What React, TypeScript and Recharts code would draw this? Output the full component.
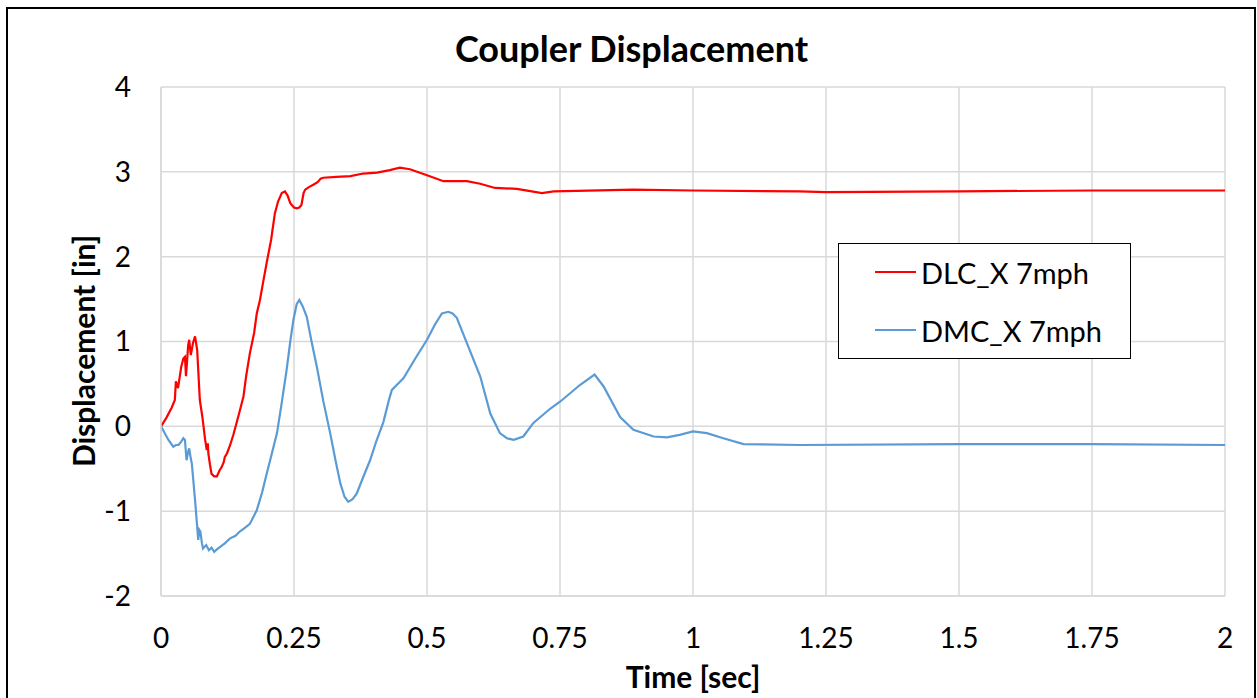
import React from 'react';
import { LineChart, Line, XAxis, YAxis, CartesianGrid, Legend } from 'recharts';

const dlcTime = [0, 0.01, 0.02, 0.026, 0.028, 0.032, 0.038, 0.042, 0.045, 0.047, 0.051, 0.053, 0.056, 0.06, 0.064, 0.068, 0.073, 0.078, 0.083, 0.086, 0.088, 0.089, 0.092, 0.095, 0.1, 0.105, 0.11, 0.114, 0.118, 0.12, 0.124, 0.13, 0.136, 0.142, 0.148, 0.155, 0.16, 0.167, 0.175, 0.18, 0.186, 0.192, 0.199, 0.207, 0.214, 0.22, 0.227, 0.233, 0.238, 0.243, 0.25, 0.255, 0.26, 0.264, 0.268, 0.271, 0.278, 0.287, 0.295, 0.3, 0.305, 0.33, 0.356, 0.38, 0.406, 0.43, 0.449, 0.468, 0.5, 0.531, 0.575, 0.6, 0.628, 0.669, 0.716, 0.738, 0.888, 1.0, 1.2, 1.25, 1.5, 1.75, 2.0];
const dlcValue = [0, 0.1, 0.22, 0.31, 0.53, 0.45, 0.7, 0.8, 0.82, 0.59, 0.95, 1.02, 0.84, 0.98, 1.06, 0.9, 0.31, 0.1, -0.16, -0.28, -0.2, -0.32, -0.45, -0.56, -0.59, -0.59, -0.52, -0.48, -0.42, -0.36, -0.32, -0.22, -0.1, 0.04, 0.18, 0.35, 0.59, 0.86, 1.1, 1.33, 1.49, 1.7, 1.94, 2.2, 2.51, 2.65, 2.75, 2.77, 2.72, 2.63, 2.58, 2.57, 2.58, 2.61, 2.75, 2.79, 2.82, 2.85, 2.88, 2.92, 2.93, 2.94, 2.95, 2.98, 2.99, 3.02, 3.05, 3.03, 2.96, 2.89, 2.89, 2.86, 2.81, 2.8, 2.75, 2.77, 2.79, 2.78, 2.77, 2.76, 2.77, 2.78, 2.78];

const dmcTime = [0, 0.014, 0.023, 0.028, 0.033, 0.038, 0.042, 0.045, 0.048, 0.051, 0.053, 0.056, 0.058, 0.064, 0.07, 0.072, 0.074, 0.077, 0.079, 0.085, 0.09, 0.095, 0.1, 0.105, 0.111, 0.12, 0.13, 0.14, 0.148, 0.157, 0.167, 0.175, 0.18, 0.19, 0.199, 0.208, 0.218, 0.227, 0.236, 0.243, 0.249, 0.255, 0.26, 0.266, 0.274, 0.283, 0.293, 0.305, 0.318, 0.328, 0.337, 0.345, 0.352, 0.36, 0.368, 0.38, 0.393, 0.405, 0.418, 0.428, 0.434, 0.445, 0.456, 0.478, 0.5, 0.515, 0.528, 0.54, 0.548, 0.556, 0.575, 0.6, 0.619, 0.637, 0.65, 0.663, 0.681, 0.7, 0.732, 0.75, 0.788, 0.815, 0.832, 0.863, 0.888, 0.926, 0.951, 0.975, 1.0, 1.026, 1.057, 1.095, 1.2, 1.5, 1.75, 2.0];
const dmcValue = [0, -0.16, -0.24, -0.22, -0.22, -0.18, -0.14, -0.16, -0.4, -0.3, -0.26, -0.38, -0.44, -0.87, -1.34, -1.22, -1.24, -1.38, -1.44, -1.4, -1.46, -1.43, -1.48, -1.45, -1.42, -1.38, -1.32, -1.29, -1.24, -1.2, -1.15, -1.05, -0.99, -0.78, -0.55, -0.33, -0.08, 0.28, 0.66, 1.0, 1.26, 1.44, 1.49, 1.42, 1.29, 1.0, 0.7, 0.3, -0.08, -0.4, -0.67, -0.83, -0.89, -0.86, -0.79, -0.6, -0.4, -0.17, 0.05, 0.3, 0.43, 0.5, 0.57, 0.8, 1.02, 1.2, 1.33, 1.35, 1.33, 1.28, 0.98, 0.59, 0.15, -0.08, -0.14, -0.16, -0.12, 0.04, 0.21, 0.29, 0.49, 0.61, 0.47, 0.11, -0.04, -0.12, -0.13, -0.1, -0.06, -0.08, -0.14, -0.21, -0.22, -0.21, -0.21, -0.22];

const xTicks = [0, 0.25, 0.5, 0.75, 1, 1.25, 1.5, 1.75, 2];
const yTicks = [-2, -1, 0, 1, 2, 3, 4];
const seriesNames = ['DLC_X 7mph', 'DMC_X 7mph'];
const seriesColors = ['#FF0000', '#5B9BD5'];

const dlcData = dlcTime.map((t, i) => ({ t, v: dlcValue[i] }));
const dmcData = dmcTime.map((t, i) => ({ t, v: dmcValue[i] }));

const FONT = 'Lato, "Open Sans", sans-serif';

const LegendBox = () => (
  <div
    style={{
      width: 293,
      height: 116,
      border: '1.5px solid #000',
      boxSizing: 'border-box',
      background: '#fff',
      fontFamily: FONT,
      fontSize: 29,
      color: '#000',
      position: 'relative',
    }}
  >
    {seriesNames.map((name, i) => (
      <div
        key={name}
        style={{
          position: 'absolute',
          left: 36,
          top: 11 + i * 58,
          display: 'flex',
          alignItems: 'center',
          height: 34,
          whiteSpace: 'nowrap',
        }}
      >
        <span style={{ display: 'inline-block', width: 41, height: 2, background: seriesColors[i], marginRight: 5 }} />
        <span>{name}</span>
      </div>
    ))}
  </div>
);

export default function App() {
  return (
    <div style={{ position: 'absolute', left: 0, top: 0, width: 1257, height: 698, background: '#fff', overflow: 'hidden' }}>
      <div
        style={{
          position: 'absolute',
          left: 6,
          top: 7,
          width: 1250,
          height: 720,
          border: '2.5px solid #000',
          boxSizing: 'border-box',
        }}
      />
      <div style={{ position: 'absolute', left: 0, top: 0 }}>
        <LineChart width={1257} height={698} margin={{ top: 87, right: 32, left: 101, bottom: 42 }}>
          <CartesianGrid stroke="#d9d9d9" strokeWidth={1.5} horizontalValues={yTicks} verticalValues={xTicks} />
          <XAxis
            type="number"
            dataKey="t"
            domain={[0, 2]}
            ticks={xTicks}
            allowDataOverflow
            height={60}
            tickLine={false}
            tickSize={0}
            tickMargin={32}
            axisLine={{ stroke: '#d9d9d9', strokeWidth: 1.5 }}
            tick={{ fill: '#000', fontSize: 28, fontFamily: FONT }}
          />
          <YAxis
            type="number"
            domain={[-2, 4]}
            ticks={yTicks}
            allowDataOverflow
            width={60}
            tickLine={false}
            tickSize={0}
            tickMargin={30}
            axisLine={{ stroke: '#d9d9d9', strokeWidth: 1.5 }}
            tick={{ fill: '#000', fontSize: 28, fontFamily: FONT }}
          />
          <Legend
            layout="vertical"
            verticalAlign="middle"
            align="center"
            wrapperStyle={{ position: 'absolute', left: 838, top: 243, width: 293, height: 116 }}
            content={() => <LegendBox />}
          />
          <Line
            data={dlcData}
            dataKey="v"
            name={seriesNames[0]}
            stroke={seriesColors[0]}
            strokeWidth={2.2}
            dot={false}
            type="linear"
            isAnimationActive={false}
          />
          <Line
            data={dmcData}
            dataKey="v"
            name={seriesNames[1]}
            stroke={seriesColors[1]}
            strokeWidth={2.2}
            dot={false}
            type="linear"
            isAnimationActive={false}
          />
          <text x={631.5} y={61.5} textAnchor="middle" fontFamily={FONT} fontWeight="bold" fontSize={36} fill="#000">
            Coupler Displacement
          </text>
          <text x={693} y={688} textAnchor="middle" fontFamily={FONT} fontWeight="bold" fontSize={30} fill="#000">
            Time [sec]
          </text>
          <text
            x={0}
            y={0}
            transform="translate(95, 351) rotate(-90)"
            textAnchor="middle"
            fontFamily={FONT}
            fontWeight="bold"
            fontSize={30}
            fill="#000"
          >
            Displacement [in]
          </text>
        </LineChart>
      </div>
    </div>
  );
}
